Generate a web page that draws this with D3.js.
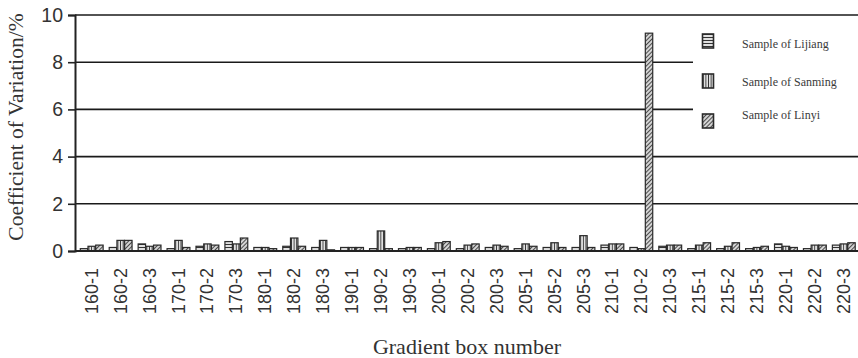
<!DOCTYPE html>
<html>
<head>
<meta charset="utf-8">
<script src="https://cdn.jsdelivr.net/npm/d3@7"></script>
<style>
  html, body { margin: 0; padding: 0; background: #fff; }
  svg { display: block; }
</style>
</head>
<body>
<svg id="chart" width="858" height="358"></svg>
<script>
const categories = ["160-1","160-2","160-3","170-1","170-2","170-3","180-1","180-2","180-3",
  "190-1","190-2","190-3","200-1","200-2","200-3","205-1","205-2","205-3",
  "210-1","210-2","210-3","215-1","215-2","215-3","220-1","220-2","220-3"];
const lijiang = [0.10,0.15,0.30,0.10,0.20,0.40,0.15,0.20,0.15,0.15,0.10,0.10,0.10,0.10,0.15,0.10,0.15,0.15,0.25,0.15,0.20,0.10,0.10,0.10,0.30,0.10,0.25];
const sanming = [0.20,0.45,0.20,0.45,0.30,0.30,0.15,0.55,0.45,0.15,0.85,0.15,0.35,0.25,0.25,0.30,0.35,0.65,0.30,0.10,0.25,0.25,0.20,0.15,0.20,0.25,0.30];
const linyi   = [0.25,0.45,0.25,0.15,0.25,0.55,0.10,0.20,0.05,0.15,0.10,0.15,0.40,0.30,0.20,0.20,0.15,0.15,0.30,9.23,0.25,0.35,0.35,0.20,0.15,0.25,0.35];
const seriesNames = ["Sample of Lijiang","Sample of Sanming","Sample of Linyi"];
const yTicks = [0,2,4,6,8,10];

const series = [
  {name: seriesNames[0], values: lijiang, pat: "pat-h"},
  {name: seriesNames[1], values: sanming, pat: "pat-v"},
  {name: seriesNames[2], values: linyi,   pat: "pat-d"}
];

const svg = d3.select("#chart");
const mLeft = 75, mRight = 858, mTop = 15, mBottom = 251;

const x0 = d3.scaleBand().domain(categories).range([77, 858]).paddingInner(0.2).paddingOuter(0.1);
const x1 = d3.scaleBand().domain([0,1,2]).range([0, x0.bandwidth()]);
const y = d3.scaleLinear().domain([0, 10]).range([mBottom, mTop]);

// patterns
const defs = svg.append("defs");
const ph = defs.append("pattern").attr("id","pat-h").attr("patternUnits","userSpaceOnUse").attr("width",4).attr("height",3);
ph.append("rect").attr("width",4).attr("height",3).attr("fill","#e0e0e0");
ph.append("line").attr("x1",0).attr("x2",4).attr("y1",1.5).attr("y2",1.5).attr("stroke","#333").attr("stroke-width",1);
const pv = defs.append("pattern").attr("id","pat-v").attr("patternUnits","userSpaceOnUse").attr("width",2.6).attr("height",4);
pv.append("rect").attr("width",2.6).attr("height",4).attr("fill","#e0e0e0");
pv.append("line").attr("x1",1.3).attr("x2",1.3).attr("y1",0).attr("y2",4).attr("stroke","#333").attr("stroke-width",0.9);
const pd = defs.append("pattern").attr("id","pat-d").attr("patternUnits","userSpaceOnUse").attr("width",3).attr("height",3).attr("patternTransform","rotate(-45)");
pd.append("rect").attr("width",3).attr("height",3).attr("fill","#d4d4d4");
pd.append("line").attr("x1",0).attr("x2",3).attr("y1",1.5).attr("y2",1.5).attr("stroke","#4a4a4a").attr("stroke-width",1);

// gridlines
svg.append("g").selectAll("line").data(yTicks.filter(d => d > 0)).join("line")
  .attr("x1", mLeft).attr("x2", mRight)
  .attr("y1", d => y(d)).attr("y2", d => y(d))
  .attr("stroke", "#1a1a1a").attr("stroke-width", 1.6);

// legend background box (covers gridlines)
svg.append("rect").attr("x", 693).attr("y", 19).attr("width", 170).attr("height", 130).attr("fill", "#fff");

// bars
const groups = svg.append("g").selectAll("g").data(categories).join("g")
  .attr("transform", d => `translate(${x0(d)},0)`);
groups.selectAll("rect").data((d, i) => series.map((s, k) => ({k, v: s.values[i], pat: s.pat}))).join("rect")
  .attr("x", d => x1(d.k) + 0.4)
  .attr("width", x1.bandwidth() - 0.3)
  .attr("y", d => y(d.v))
  .attr("height", d => y(0) - y(d.v))
  .attr("fill", d => `url(#${d.pat})`)
  .attr("stroke", "#2a2a2a").attr("stroke-width", 1.2);

// x axis line
svg.append("line").attr("x1", mLeft).attr("x2", mRight).attr("y1", y(0)).attr("y2", y(0))
  .attr("stroke", "#222").attr("stroke-width", 2.2);

// y axis
const yAxis = svg.append("g").attr("transform", `translate(${mLeft},0)`)
  .call(d3.axisLeft(y).tickValues(yTicks).tickSize(7).tickPadding(5).tickFormat(d3.format("d")));
yAxis.select(".domain").attr("stroke", "#222").attr("stroke-width", 2);
yAxis.selectAll(".tick line").attr("stroke", "#222").attr("stroke-width", 1.6);
yAxis.selectAll(".tick text").attr("font-family", "'Liberation Sans', Arial, sans-serif")
  .attr("font-size", 19.5).attr("fill", "#333");

// x tick labels
const xAxis = svg.append("g").attr("transform", `translate(0,${y(0)})`)
  .call(d3.axisBottom(x0).tickSize(0).tickPadding(0));
xAxis.select(".domain").remove();
xAxis.selectAll(".tick text")
  .attr("font-family", "'Liberation Sans', Arial, sans-serif").attr("font-size", 18).attr("fill", "#333")
  .attr("transform", "rotate(-90)")
  .attr("text-anchor", "end").attr("dy", "0.35em").attr("x", -17).attr("y", 0);

// axis titles
svg.append("text").attr("transform", "translate(23,127) rotate(-90)")
  .attr("text-anchor", "middle").attr("font-family", "'Liberation Serif', 'Times New Roman', serif")
  .attr("font-size", 21.5).attr("fill", "#333").text("Coefficient of Variation/%");
svg.append("text").attr("x", 467).attr("y", 354)
  .attr("text-anchor", "middle").attr("font-family", "'Liberation Serif', 'Times New Roman', serif")
  .attr("font-size", 22).attr("fill", "#333").text("Gradient box number");

// legend
const legendY = [41, 81, 121];
const legendTextY = [48, 86, 119];
const lg = svg.append("g");
series.forEach((s, i) => {
  lg.append("rect").attr("x", 702.5).attr("y", legendY[i] - 7).attr("width", 11).attr("height", 14)
    .attr("fill", `url(#${s.pat})`).attr("stroke", "#2a2a2a").attr("stroke-width", 1.6);
  lg.append("text").attr("x", 742).attr("y", legendTextY[i])
    .attr("font-family", "'Liberation Serif', 'Times New Roman', serif").attr("font-size", 12)
    .attr("fill", "#3a3a3a").text(s.name);
});
</script>
</body>
</html>
